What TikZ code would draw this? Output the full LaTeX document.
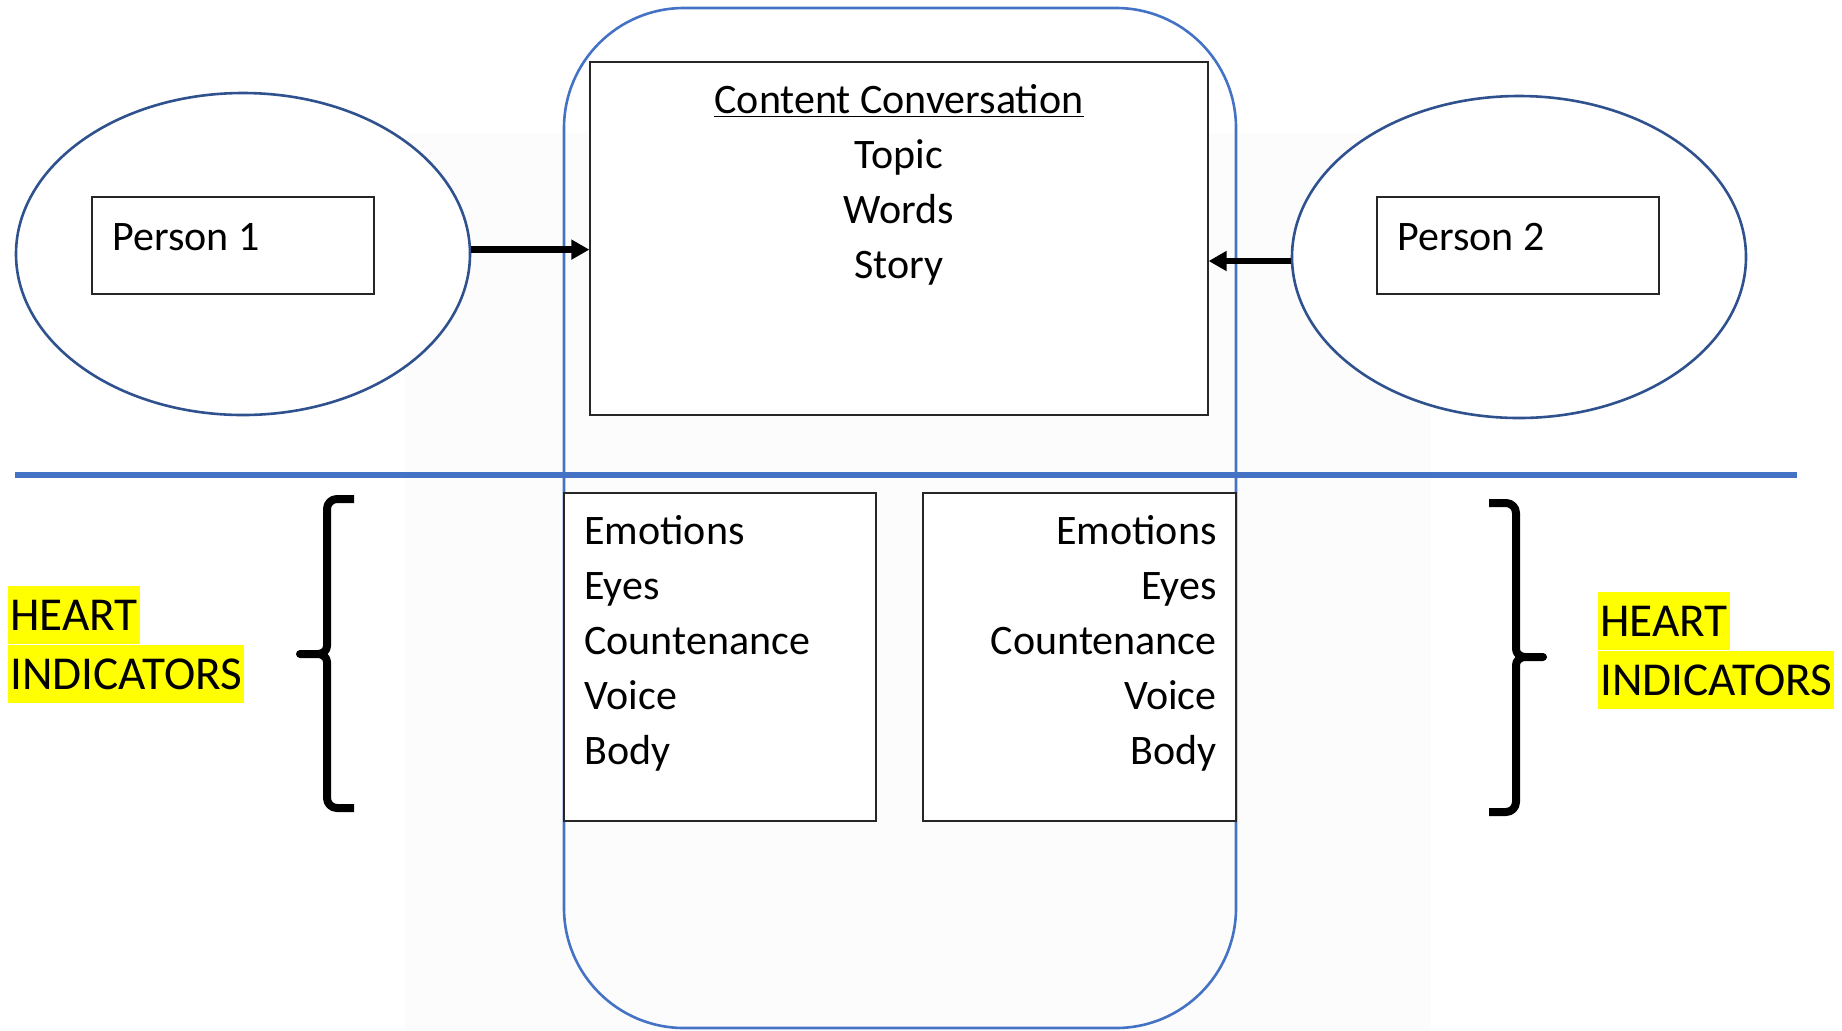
\documentclass[tikz,border=0pt]{standalone}
\usepackage{fontspec}
\setmainfont{Carlito}
\usetikzlibrary{shapes.geometric,arrows.meta}
\definecolor{frameblue}{HTML}{4472C4}
\definecolor{ringblue}{HTML}{2F528F}
\definecolor{marker}{HTML}{FFFF00}
\tikzset{
    ring/.style={ellipse, draw=ringblue, line width=1.3pt, fill=white,
        minimum width=227pt, minimum height=161pt, inner sep=0pt},
    card/.style={rectangle, draw=black!85, line width=0.6pt, fill=white, inner sep=0pt},
    word/.style={font=\fontsize{21}{25}\selectfont, inner sep=0pt},
    hilite/.style={fill=marker, font=\fontsize{23.6}{28}\selectfont,
        inner xsep=1pt, inner ysep=0pt, minimum height=29pt, anchor=north west},
    push/.style={line width=3.2pt, -{Triangle[length=9pt,width=9.5pt]}},
    curly/.style={line width=4pt, line cap=butt, line join=round}
}
\begin{document}
\begin{tikzpicture}[x=0.5pt, y=-0.5pt]
    \def\dy{55}
    \useasboundingbox (0,0) rectangle (1842,1030);
    \fill[black!1] (405,133) rectangle (1431,1030);
    \node[draw=frameblue, line width=1.3pt, rounded corners=60pt,
        minimum width=336pt, minimum height=510pt] (frame) at (900,518) {};
    \coordinate (cutL) at (15,475);
    \coordinate (cutR) at (1797,475);
    \draw[frameblue, line width=3pt] (cutL) -- (cutR);
    \node[ring] (ringL) at (243,254) {};
    \node[ring] (ringR) at (1519,257) {};
    \node[card, minimum width=141pt, minimum height=48.5pt] (boxL) at (233,245.5) {};
    \node[card, minimum width=141pt, minimum height=48.5pt] (boxR) at (1518,245.5) {};
    \node[word, anchor=base west] (nameL) at (112,250) {Person 1};
    \node[word, anchor=base west] (nameR) at (1397,250) {Person 2};
    \node[card, minimum width=309pt, minimum height=176.5pt] (content) at (899,238.5) {};
    \node[word, anchor=base] (C_0) at (899,113+0*\dy) {\underline{Content Conversation}};
    \node[word, anchor=base] (C_1) at (899,113+1*\dy) {Topic};
    \node[word, anchor=base] (C_2) at (899,113+2*\dy) {Words};
    \node[word, anchor=base] (C_3) at (899,113+3*\dy) {Story};
    \path ([yshift=2.2pt]ringL.east) edge [push] ([yshift=2.2pt]ringL.east -| content.west);
    \path ([yshift=-2pt]ringR.west) edge [push] ([yshift=-2pt]ringR.west -| content.east);
    \node[card, minimum width=156pt, minimum height=164pt] (cardL) at (720,657) {};
    \node[card, minimum width=156.5pt, minimum height=164pt] (cardR) at (1079.5,657) {};
    \node[word, anchor=base west] (L_0) at (584,544+0*\dy) {Emotions};
    \node[word, anchor=base west] (L_1) at (584,544+1*\dy) {Eyes};
    \node[word, anchor=base west] (L_2) at (584,544+2*\dy) {Countenance};
    \node[word, anchor=base west] (L_3) at (584,544+3*\dy) {Voice};
    \node[word, anchor=base west] (L_4) at (584,544+4*\dy) {Body};
    \node[word, anchor=base east] (R_0) at (1217,544+0*\dy) {Emotions};
    \node[word, anchor=base east] (R_1) at (1217,544+1*\dy) {Eyes};
    \node[word, anchor=base east] (R_2) at (1217,544+2*\dy) {Countenance};
    \node[word, anchor=base east] (R_3) at (1217,544+3*\dy) {Voice};
    \node[word, anchor=base east] (R_4) at (1217,544+4*\dy) {Body};
    \draw[curly] (354,499) -- (337,499) to[out=180,in=90] (327,509) -- (327,646)
        to[out=-90,in=0] (318,654) -- (300,654) -- (318,654)
        to[out=0,in=90] (327,662) -- (327,798) to[out=-90,in=180] (337,808) -- (354,808);
    \draw[curly] (1489,503) -- (1506,503) to[out=0,in=90] (1516,513) -- (1516,649)
        to[out=-90,in=180] (1525,657) -- (1543,657) -- (1525,657)
        to[out=180,in=90] (1516,665) -- (1516,802) to[out=-90,in=0] (1506,812) -- (1489,812);
    \node[hilite] (heartL) at (8,586) {HEART};
    \node[hilite] (indL) at (heartL.south west) {INDICATORS};
    \node[hilite] (heartR) at (1598,592) {HEART};
    \node[hilite] (indR) at (heartR.south west) {INDICATORS};
\end{tikzpicture}
\end{document}
